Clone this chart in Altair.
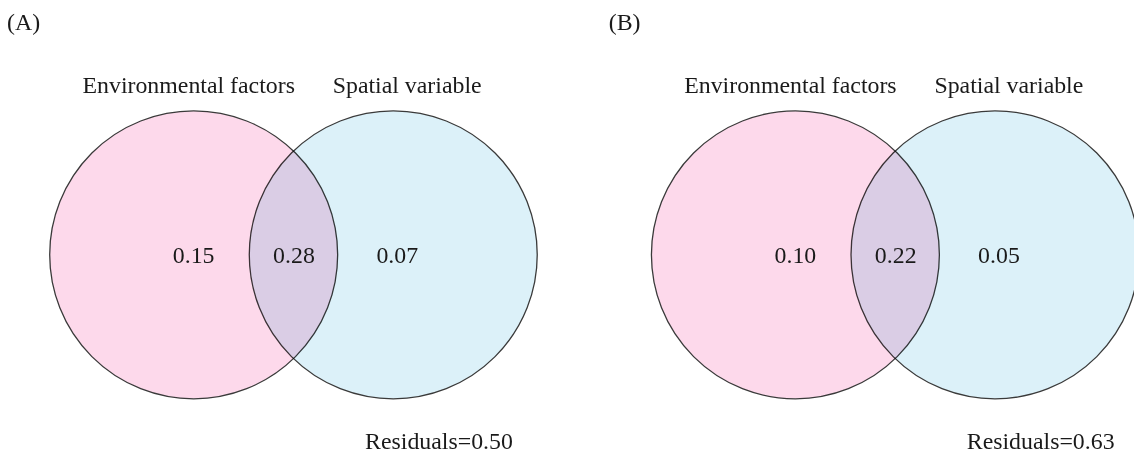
import altair as alt
import pandas as pd

# ---- data ----
panel_tags = ["(A)", "(B)"]
set_names = ["Environmental factors", "Spatial variable"]
env_only = [0.15, 0.10]
shared = [0.28, 0.22]
spatial_only = [0.07, 0.05]
residuals = [0.50, 0.63]

# ---- layout (reference pixel units) ----
PANEL_X0 = [0, 606]
CIRCLE_CX = [195, 396]
CIRCLE_CY = 255
RADIUS = 145
LABEL_X = [190, 410]
LABEL_Y = 85
VALUE_X = [195, 296, 400]
VALUE_Y = 256
RESID_X = 442
RESID_Y = 444
TAG_X = 7
TAG_Y = 22
FILLS = ["#FDD9EB", "#DCF1F9"]
FONT = "Liberation Serif"

circ_rows, lab_rows, val_rows, res_rows, tag_rows = [], [], [], [], []
for p, tag in enumerate(panel_tags):
    x0 = PANEL_X0[p]
    for i, name in enumerate(set_names):
        circ_rows.append({"x": x0 + CIRCLE_CX[i], "y": CIRCLE_CY, "set": f"{p}-{name}", "k": p * 2 + i})
        lab_rows.append({"x": x0 + LABEL_X[i], "y": LABEL_Y, "t": name})
    for i, v in enumerate([env_only[p], shared[p], spatial_only[p]]):
        val_rows.append({"x": x0 + VALUE_X[i], "y": VALUE_Y, "t": f"{v:.2f}"})
    res_rows.append({"x": x0 + RESID_X, "y": RESID_Y, "t": f"Residuals={residuals[p]:.2f}"})
    tag_rows.append({"x": x0 + TAG_X, "y": TAG_Y, "t": tag})

xs = alt.Scale(domain=[8, 1142])
ys = alt.Scale(domain=[8, 461], reverse=True)
X = alt.X("x:Q", scale=xs, axis=None)
Y = alt.Y("y:Q", scale=ys, axis=None)

# Vega circle symbol: size = (diameter)^2
circles = alt.Chart(pd.DataFrame(circ_rows)).mark_circle(
    opacity=1, stroke="#3a3a3a", strokeWidth=1.3, blend="multiply"
).encode(
    x=X, y=Y,
    color=alt.Color("set:N", scale=alt.Scale(domain=[r["set"] for r in circ_rows],
                                             range=FILLS * 2), legend=None),
    size=alt.value((2 * RADIUS) ** 2),
    order=alt.Order("k:Q"),
)

def text_layer(rows, align="center"):
    return alt.Chart(pd.DataFrame(rows)).mark_text(
        font=FONT, fontSize=24, color="#1a1a1a", align=align, baseline="middle"
    ).encode(x=X, y=Y, text="t:N")

chart = alt.layer(
    circles,
    text_layer(lab_rows),
    text_layer(val_rows),
    text_layer(res_rows),
    text_layer(tag_rows, align="left"),
).properties(
    width=1134, height=453, padding=0, autosize=alt.AutoSizeParams(type="none")
).configure_view(stroke=None)

chart.save("out.html", embed_options={"renderer": "svg", "actions": False})
